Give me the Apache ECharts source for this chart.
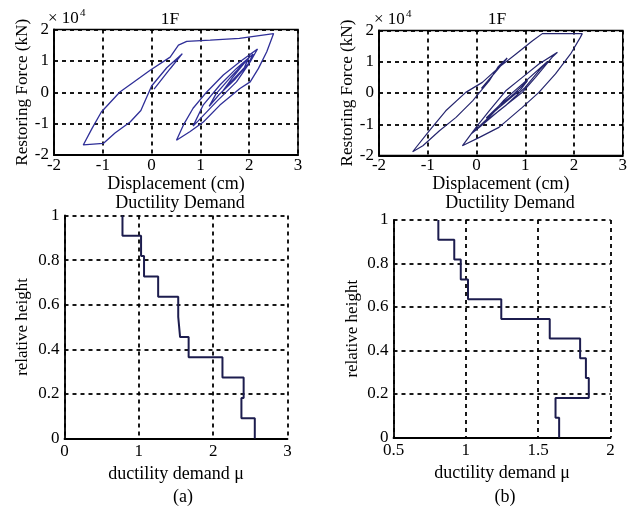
<!DOCTYPE html>
<html>
<head>
<meta charset="utf-8">
<script src="https://cdn.jsdelivr.net/npm/echarts@6/dist/echarts.min.js"></script>
<style>
  html, body { margin: 0; padding: 0; background: #fff; }
  #chart { width: 630px; height: 523px; }
</style>
</head>
<body>
<div id="chart"></div>
<script>
// hysteresis loops, 1F (force in 1e4 kN, displacement in cm)
const dispA = [0.05, 0.38, 0.63, 0.31, 0.00, -0.22, -0.44, -0.75, -0.99, -1.40, -1.22, -1.03, -0.65, -0.30, -0.03, 0.38, 0.55, 0.72, 1.20, 1.80, 2.50,
  2.36, 2.19, 2.02, 1.81, 1.40, 1.06, 0.79, 0.51, 0.65, 0.85, 1.13, 1.47, 1.81, 2.17, 2.02, 1.74, 1.33, 0.95, 0.85, 1.06, 1.40, 1.74, 2.08,
  1.98, 1.70, 1.38, 1.18, 1.32, 1.62, 1.98, 1.90, 1.62, 1.45, 1.65, 2.00, 1.88, 1.72]
const forceA = [0.10, 0.75, 1.23, 0.78, 0.20, -0.58, -0.95, -1.30, -1.63, -1.68, -1.15, -0.63, 0.01, 0.40, 0.70, 1.12, 1.50, 1.62, 1.66, 1.72, 1.87,
  1.29, 0.76, 0.33, 0.12, -0.41, -0.95, -1.25, -1.53, -1.05, -0.51, 0.01, 0.55, 0.97, 1.38, 0.97, 0.33, -0.30, -0.92, -1.08, -0.40, 0.23, 0.76, 1.22,
  0.90, 0.40, -0.08, -0.45, -0.05, 0.48, 1.08, 0.78, 0.32, 0.02, 0.45, 1.12, 0.72, 0.45]

const dispB = [0.10, 0.35, 0.63, 0.45, 0.26, -0.08, -0.42, -0.76, -1.10, -1.31, -0.97, -0.63, -0.22, 0.12, 0.46, 0.81, 1.15, 1.35, 2.17,
  2.13, 1.93, 1.62, 1.28, 0.94, 0.46, 0.06, -0.29, -0.01, 0.26, 0.60, 0.94, 1.28, 1.66, 1.55, 1.21, 0.94, 0.46, 0.06, -0.10,
  0.20, 0.55, 0.95, 1.45, 1.30, 0.98, 0.60, 0.15, 0.40, 0.75, 1.05, 0.90, 0.55, 0.20, 0.50, 0.85]
const forceB = [0.15, 0.60, 1.12, 0.85, 0.39, -0.25, -0.78, -1.21, -1.69, -1.88, -1.21, -0.57, 0.02, 0.34, 0.82, 1.25, 1.67, 1.90, 1.90,
  1.78, 1.25, 0.61, 0.02, -0.46, -1.10, -1.42, -1.69, -1.10, -0.57, 0.07, 0.50, 0.93, 1.30, 1.14, 0.50, 0.02, -0.57, -1.10, -1.30,
  -0.85, -0.25, 0.30, 1.00, 0.75, 0.15, -0.40, -0.95, -0.55, -0.05, 0.40, 0.10, -0.35, -0.80, -0.35, 0.05]

// ductility demand per storey, top storey first
const levels = [1, 0.909, 0.818, 0.727, 0.636, 0.545, 0.455, 0.364, 0.273, 0.182, 0.091, 0]
const ductA = [0.78, 1.03, 1.07, 1.26, 1.53, 1.555, 1.67, 2.125, 2.41, 2.38, 2.56]
const ductB = [0.81, 0.92, 0.965, 1.015, 1.245, 1.58, 1.79, 1.83, 1.85, 1.62, 1.645]

// tick labels
const dispTicks = [-2, -1, 0, 1, 2, 3]
const forceTicks = [-2, -1, 0, 1, 2]
const heightTicks = [0, 0.2, 0.4, 0.6, 0.8, 1]
const ductTicksA = [0, 1, 2, 3]
const ductTicksB = [0.5, 1, 1.5, 2]

const FONT = 'Liberation Serif'

const pairs = (xs, ys) => xs.map((x, i) => [x, ys[i]])
const steps = (d) => {
  const pts = []
  d.forEach((v, i) => {
    pts.push([v, levels[i]])
    pts.push([v, levels[i + 1]])
  })
  return pts
}

const gridLine = { show: true, lineStyle: { color: '#000', width: 1.8, type: [4, 4] } }
const label = { color: '#000', fontSize: 17, fontFamily: FONT }

function axis(ticks, idx, extra) {
  return Object.assign({
    type: 'value',
    gridIndex: idx,
    min: ticks[0],
    max: ticks[ticks.length - 1],
    interval: ticks[1] - ticks[0],
    axisLine: { show: true, onZero: false, lineStyle: { color: '#000', width: 1.8 } },
    axisTick: { show: false },
    splitLine: gridLine,
    axisLabel: Object.assign({ margin: 5 }, label),
    nameLocation: 'middle',
    nameTextStyle: { color: '#000', fontSize: 18, fontFamily: FONT },
  }, extra)
}

const chart = echarts.init(document.getElementById('chart'))

const txt = (x, y, s, size) => ({
  type: 'text', x: x, y: y,
  style: { text: s, fill: '#000', font: size + 'px "' + FONT + '"', textAlign: 'center', textVerticalAlign: 'middle' },
})
const txtL = (x, y, s, size) => ({
  type: 'text', x: x, y: y,
  style: { text: s, fill: '#000', font: size + 'px "' + FONT + '"', textAlign: 'left', textVerticalAlign: 'middle' },
})
const nameStyle = (size) => ({ color: '#000', fontSize: size, fontFamily: FONT })

chart.setOption({
  animation: false,
  textStyle: { fontFamily: FONT },
  grid: [
    { left: 54, top: 29.5, width: 244, height: 125.5, show: true, borderColor: '#000', borderWidth: 1.5 },
    { left: 379, top: 30.5, width: 246, height: 125, show: true, borderColor: '#000', borderWidth: 1.5 },
    { left: 64.5, top: 215.5, width: 223, height: 223 },
    { left: 393.5, top: 220, width: 217, height: 217.5 },
  ],
  xAxis: [
    axis(dispTicks, 0, { name: 'Displacement (cm)', nameGap: 15, nameTextStyle: nameStyle(18), axisLabel: Object.assign({ margin: 2 }, label) }),
    axis(dispTicks, 1, { name: 'Displacement (cm)', nameGap: 15, nameTextStyle: nameStyle(18), axisLabel: Object.assign({ margin: 2 }, label) }),
    axis(ductTicksA, 2, { name: 'ductility demand μ', nameGap: 27 }),
    axis(ductTicksB, 3, { name: 'ductility demand μ', nameGap: 27 }),
  ],
  yAxis: [
    axis(forceTicks, 0, { name: 'Restoring Force (kN)', nameGap: 20, nameTextStyle: nameStyle(17.2) }),
    axis(forceTicks, 1, { name: 'Restoring Force (kN)', nameGap: 22, nameTextStyle: nameStyle(17.2) }),
    axis(heightTicks, 2, { name: 'relative height', nameGap: 33, nameTextStyle: nameStyle(17) }),
    axis(heightTicks, 3, { name: 'relative height', nameGap: 32, nameTextStyle: nameStyle(17) }),
  ],
  graphic: [
    txt(170, 19, '1F', 17.5),
    txt(497, 19, '1F', 17.5),
    txtL(48, 19, '× 10', 17),
    txtL(80, 13.5, '4', 11),
    txtL(374, 20, '× 10', 17),
    txtL(406, 14.5, '4', 11),
    txt(180, 203, 'Ductility Demand', 18),
    txt(510, 203, 'Ductility Demand', 18),
    txt(183, 497, '(a)', 18),
    txt(505, 497, '(b)', 18),
  ],
  series: [
    {
      type: 'line', xAxisIndex: 0, yAxisIndex: 0, showSymbol: false,
      data: pairs(dispA, forceA),
      lineStyle: { color: '#2f2f98', width: 1.3 },
    },
    {
      type: 'line', xAxisIndex: 1, yAxisIndex: 1, showSymbol: false,
      data: pairs(dispB, forceB),
      lineStyle: { color: '#25256e', width: 1.2 },
    },
    {
      type: 'line', xAxisIndex: 2, yAxisIndex: 2, showSymbol: false,
      data: steps(ductA),
      lineStyle: { color: '#1c1c4e', width: 2 },
    },
    {
      type: 'line', xAxisIndex: 3, yAxisIndex: 3, showSymbol: false,
      data: steps(ductB),
      lineStyle: { color: '#1c1c4e', width: 2 },
    },
  ],
})
</script>
</body>
</html>
